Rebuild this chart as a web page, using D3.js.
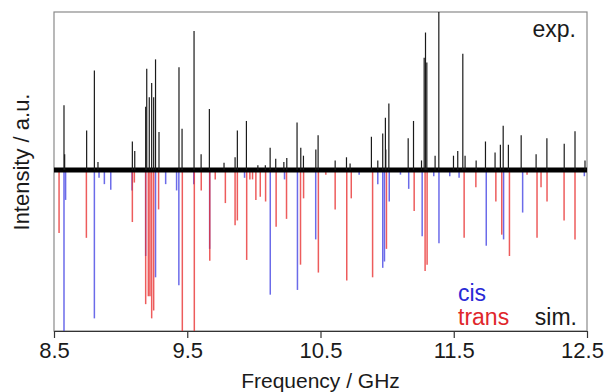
<!DOCTYPE html>
<html>
<head>
<meta charset="utf-8">
<script src="https://cdn.jsdelivr.net/npm/d3@7"></script>
<style>
  body { margin: 0; background: #fff; }
  text { font-family: "Liberation Sans", Arial, sans-serif; }
</style>
</head>
<body>
<div id="chart"></div>
<script>
// experimental spectrum: line positions (GHz) and relative intensity
const expFreq = [8.575, 8.58, 8.745, 8.803, 8.83, 9.088, 9.106, 9.188, 9.196, 9.215, 9.233, 9.248, 9.262, 9.288,
  9.438, 9.461, 9.551, 9.604, 9.666, 9.776, 9.859, 9.876, 9.944, 10.03, 10.086, 10.122, 10.164, 10.225, 10.247,
  10.324, 10.352, 10.372, 10.465, 10.482, 10.61, 10.695, 10.722, 10.882, 10.93, 10.967, 10.987, 10.99, 11.013,
  11.158, 11.198, 11.258, 11.278, 11.288, 11.298, 11.36, 11.388, 11.498, 11.53, 11.568, 11.585, 11.668, 11.738,
  11.81, 11.85, 11.871, 11.91, 12.006, 12.118, 12.199, 12.329, 12.41, 12.485];
const expInt = [0.41, 0.10, 0.25, 0.63, 0.05, 0.18, 0.12, 0.40, 0.64, 0.46, 0.55, 0.46, 0.70, 0.24,
  0.65, 0.26, 0.88, 0.10, 0.385, 0.045, 0.08, 0.25, 0.31, 0.03, 0.03, 0.14, 0.07, 0.05, 0.075,
  0.30, 0.14, 0.09, 0.13, 0.22, 0.06, 0.08, 0.04, 0.21, 0.06, 0.23, 0.33, 0.13, 0.42,
  0.20, 0.31, 0.06, 0.71, 0.87, 0.68, 0.09, 1.0, 0.09, 0.12, 0.735, 0.09, 0.06, 0.18,
  0.11, 0.16, 0.28, 0.16, 0.22, 0.10, 0.20, 0.165, 0.245, 0.06];

// simulated cis lines
const cisFreq = [8.575, 8.587, 8.803, 8.838, 8.878, 8.926, 9.086, 9.188, 9.262, 9.338, 9.42, 9.437, 9.549, 9.668,
  9.93, 10.123, 10.23, 10.327, 10.464, 10.79, 10.93, 10.967, 10.98, 11.016, 11.1, 11.162, 11.263, 11.35, 11.389,
  11.47, 11.54, 11.744, 11.874, 12.017, 12.48];
const cisInt = [1.02, 0.19, 0.94, 0.05, 0.09, 0.125, 0.13, 0.545, 0.68, 0.09, 0.13, 0.73, 0.09, 0.50,
  0.05, 0.79, 0.06, 0.76, 0.44, 0.03, 0.09, 0.62, 0.58, 0.20, 0.03, 0.12, 0.42, 0.04, 0.465,
  0.04, 0.05, 0.48, 0.44, 0.27, 0.04];

// simulated trans lines
const transFreq = [8.538, 8.743, 9.088, 9.103, 9.188, 9.208, 9.22, 9.233, 9.248, 9.285, 9.463, 9.553, 9.605, 9.669,
  9.71, 9.786, 9.859, 9.876, 9.946, 9.97, 9.99, 10.015, 10.048, 10.088, 10.167, 10.245, 10.35, 10.373, 10.484,
  10.54, 10.61, 10.697, 10.731, 10.891, 10.995, 11.203, 11.285, 11.3, 11.578, 11.666, 11.816, 11.86, 11.918,
  12.05, 12.125, 12.155, 12.2, 12.328, 12.41];
const transInt = [0.40, 0.43, 0.33, 0.08, 0.85, 0.80, 0.80, 0.94, 0.89, 0.25, 1.02, 1.02, 0.13, 0.575,
  0.06, 0.21, 0.35, 0.32, 0.57, 0.06, 0.06, 0.19, 0.17, 0.20, 0.36, 0.31, 0.60, 0.18, 0.65,
  0.03, 0.25, 0.70, 0.18, 0.68, 0.50, 0.26, 0.64, 0.60, 0.43, 0.11, 0.20, 0.41, 0.545,
  0.03, 0.43, 0.11, 0.20, 0.32, 0.44];

const tickValues = [8.5, 9.5, 10.5, 11.5, 12.5];

const W = 606, H = 392;
const margin = { top: 12, right: 19, bottom: 61, left: 54 };

const svg = d3.select("#chart").append("svg")
  .attr("width", W)
  .attr("height", H);

const x = d3.scaleLinear().domain([8.5, 12.5]).range([margin.left, W - margin.right]);
const y = d3.scaleLinear().domain([-1.02, 1]).range([H - margin.bottom, margin.top]);

const zip = (f, v) => f.map((d, i) => ({ f: d, v: v[i] }));

// frame
svg.append("rect")
  .attr("x", x(8.5)).attr("y", y(1))
  .attr("width", x(12.5) - x(8.5)).attr("height", y(-1.02) - y(1))
  .attr("fill", "none").attr("stroke", "#8a8a8a").attr("stroke-width", 1.2);

// simulated sticks (downwards)
svg.append("g").selectAll("line")
  .data(zip(cisFreq, cisInt))
  .enter().append("line")
  .attr("x1", d => x(d.f)).attr("x2", d => x(d.f))
  .attr("y1", y(0)).attr("y2", d => y(-d.v))
  .attr("stroke", "#3a3ae2").attr("stroke-opacity", 0.75).attr("stroke-width", 1.5);

svg.append("g").selectAll("line")
  .data(zip(transFreq, transInt))
  .enter().append("line")
  .attr("x1", d => x(d.f)).attr("x2", d => x(d.f))
  .attr("y1", y(0)).attr("y2", d => y(-d.v))
  .attr("stroke", "#e82e2e").attr("stroke-opacity", 0.78).attr("stroke-width", 1.5);

// noisy experimental baseline
svg.append("line")
  .attr("x1", x(8.5)).attr("x2", x(12.5))
  .attr("y1", y(0)).attr("y2", y(0))
  .attr("stroke", "#000").attr("stroke-width", 5);

// experimental lines (upwards)
svg.append("g").selectAll("line")
  .data(zip(expFreq, expInt))
  .enter().append("line")
  .attr("x1", d => x(d.f)).attr("x2", d => x(d.f))
  .attr("y1", y(0)).attr("y2", d => y(d.v))
  .attr("stroke", "#1a1a1a").attr("stroke-width", 1.2);

// bottom axis
const axis = svg.append("g")
  .attr("transform", "translate(0," + y(-1.02) + ")")
  .call(d3.axisBottom(x).tickValues(tickValues).tickFormat(d3.format(".1f")).tickSize(7).tickSizeOuter(0));
axis.select(".domain").attr("stroke", "#333").attr("stroke-width", 1.2);
axis.selectAll(".tick line").attr("stroke", "#333").attr("stroke-width", 1.2);
axis.selectAll(".tick text")
  .attr("y", 11)
  .style("font-size", "22px")
  .attr("fill", "#1a1a1a");
// keep the last label inside the window
axis.selectAll(".tick text").filter(d => d === 12.5).attr("dx", -5);

// axis titles
svg.append("text")
  .attr("x", (x(8.5) + x(12.5)) / 2)
  .attr("y", 388)
  .attr("text-anchor", "middle")
  .style("font-size", "21px")
  .attr("fill", "#1a1a1a")
  .text("Frequency / GHz");

svg.append("text")
  .attr("transform", "translate(29," + 162 + ") rotate(-90)")
  .attr("text-anchor", "middle")
  .style("font-size", "22px")
  .attr("fill", "#1a1a1a")
  .text("Intensity / a.u.");

// panel labels
svg.append("text").attr("x", 576).attr("y", 37).attr("text-anchor", "end")
  .style("font-size", "23px").attr("fill", "#1a1a1a").text("exp.");
svg.append("text").attr("x", 577).attr("y", 325).attr("text-anchor", "end")
  .style("font-size", "23px").attr("fill", "#1a1a1a").text("sim.");
svg.append("text").attr("x", 458).attr("y", 325)
  .style("font-size", "23px").attr("fill", "#e0262b").text("trans");
svg.append("text").attr("x", 458).attr("y", 301)
  .style("font-size", "23px").attr("fill", "#2a2ad6").text("cis");
</script>
</body>
</html>
